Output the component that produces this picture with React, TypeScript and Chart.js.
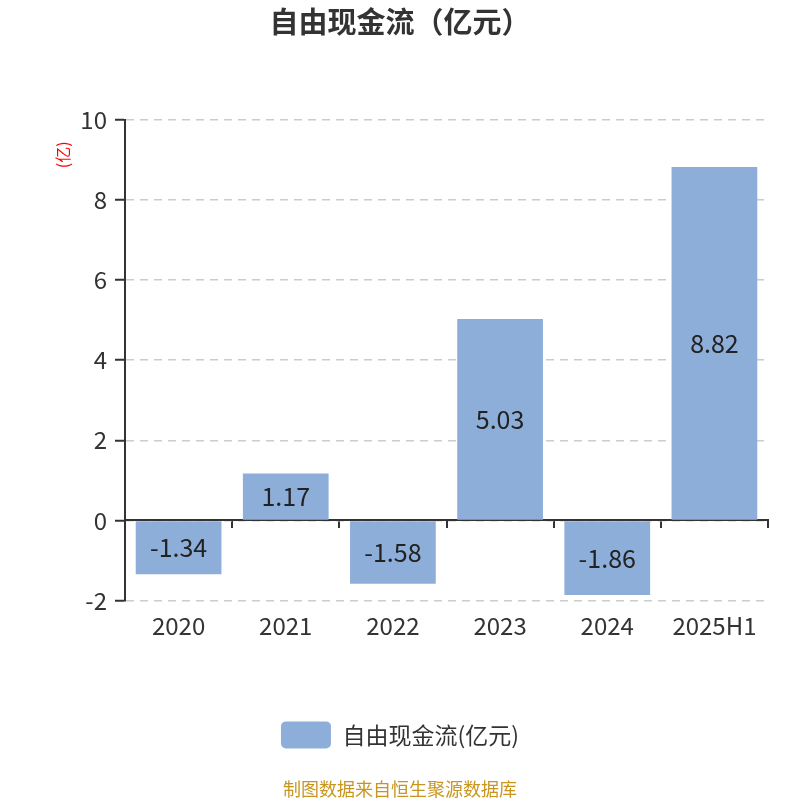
import { useEffect, useRef } from 'react';
import { Chart, registerables, type Plugin } from 'chart.js';

Chart.register(...registerables);

const YEARS = ['2020', '2021', '2022', '2023', '2024', '2025H1'];
const FCF = [-1.34, 1.17, -1.58, 5.03, -1.86, 8.82];
const SERIES_LABEL = '自由现金流(亿元)';
const TITLE = '自由现金流（亿元）';
const UNIT = '(亿)';
const SOURCE = '制图数据来自恒生聚源数据库';
const Y_MIN = -2;
const Y_MAX = 10;
const Y_STEP = 2;

const FONT = "'Noto Sans CJK SC', 'Open Sans', sans-serif";
const BAR = '#8eaeda';
const INK = '#333333';

// value printed in the middle of each bar
const barLabels: Plugin<'bar'> = {
  id: 'barLabels',
  afterDatasetsDraw(chart) {
    const { ctx } = chart;
    const meta = chart.getDatasetMeta(0);
    ctx.save();
    ctx.font = `25px ${FONT}`;
    ctx.fillStyle = '#222';
    ctx.textAlign = 'center';
    ctx.textBaseline = 'middle';
    meta.data.forEach((el: any, i) => {
      ctx.fillText(FCF[i].toFixed(2), el.x, (el.y + el.base) / 2);
    });
    ctx.restore();
  },
};

// small red unit tag beside the y axis
const unitTag: Plugin<'bar'> = {
  id: 'unitTag',
  afterDraw(chart) {
    const { ctx, chartArea } = chart;
    ctx.save();
    ctx.translate(chartArea.left - 62, chartArea.top + 35);
    ctx.rotate(-Math.PI / 2);
    ctx.font = `16px ${FONT}`;
    ctx.fillStyle = '#ff0000';
    ctx.textAlign = 'center';
    ctx.textBaseline = 'middle';
    ctx.fillText(UNIT, 0, 0);
    ctx.restore();
  },
};

export default function App() {
  const canvasRef = useRef<HTMLCanvasElement>(null);
  const chartRef = useRef<Chart | null>(null);

  useEffect(() => {
    const canvas = canvasRef.current;
    if (!canvas) return;
    chartRef.current?.destroy();
    chartRef.current = new Chart(canvas, {
      type: 'bar',
      data: {
        labels: YEARS,
        datasets: [
          {
            label: SERIES_LABEL,
            data: FCF,
            backgroundColor: BAR,
            borderWidth: 0,
            barPercentage: 0.8,
            categoryPercentage: 1,
          },
        ],
      },
      options: {
        animation: false,
        responsive: true,
        maintainAspectRatio: false,
        layout: { padding: 0 },
        font: { family: FONT },
        scales: {
          x: {
            type: 'category',
            offset: true,
            grid: { display: false },
            border: { display: false },
            ticks: { color: INK, font: { size: 24, family: FONT }, padding: 3 },
            afterFit(scale) {
              scale.height += 68;
            },
          },
          x2: {
            type: 'category',
            labels: YEARS,
            position: { y: 0 },
            offset: true,
            z: 1,
            grid: { offset: true, drawOnChartArea: false, color: INK, lineWidth: 2, tickLength: 7 },
            border: { color: INK, width: 2 },
            ticks: { display: false },
          },
          y: {
            min: Y_MIN,
            max: Y_MAX,
            ticks: { stepSize: Y_STEP, color: INK, font: { size: 24, family: FONT }, padding: 8 },
            grid: { color: '#cccccc', lineWidth: 1.5, tickLength: 10, tickColor: INK, tickWidth: 2 },
            border: { color: INK, width: 2, dash: [8, 6] },
            afterFit(scale) {
              scale.width = 125;
            },
          },
          // empty right-hand axis, only to keep a margin on the right
          yPad: {
            position: 'right',
            grid: { display: false },
            border: { display: false },
            ticks: { display: false },
            afterFit(scale) {
              scale.width = 32;
            },
          },
        },
        plugins: {
          title: {
            display: true,
            text: TITLE,
            color: INK,
            font: { size: 29, weight: 'bold', family: FONT },
            padding: { top: 5, bottom: 80 },
          },
          subtitle: {
            display: true,
            position: 'bottom',
            text: SOURCE,
            color: '#c8961e',
            font: { size: 18, family: FONT },
            padding: { top: 20, bottom: 0 },
          },
          legend: {
            position: 'bottom',
            labels: {
              boxWidth: 50,
              boxHeight: 27,
              useBorderRadius: true,
              borderRadius: 5,
              color: INK,
              font: { size: 23, family: FONT },
              padding: 10,
            },
          },
          tooltip: { enabled: false },
        },
      },
      plugins: [barLabels, unitTag],
    });
    return () => {
      chartRef.current?.destroy();
      chartRef.current = null;
    };
  }, []);

  return (
    <div style={{ position: 'absolute', left: 0, top: 0, width: 800, height: 800, background: '#fff' }}>
      <canvas ref={canvasRef} />
    </div>
  );
}
